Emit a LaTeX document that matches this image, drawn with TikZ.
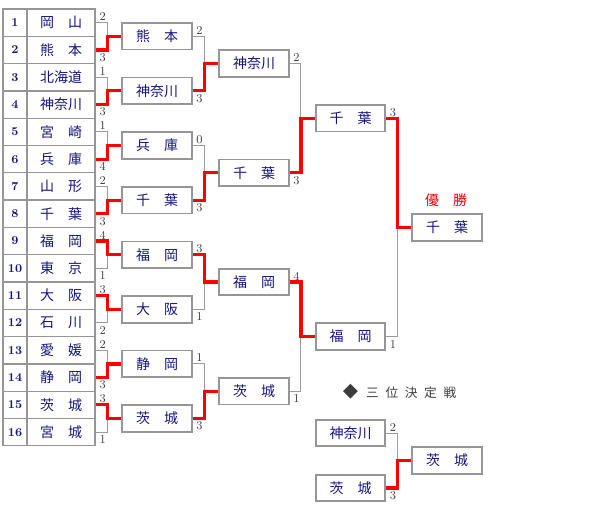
\documentclass[tikz,border=0pt]{standalone}
\usepackage{fontspec}
\newfontfamily\jp{Noto Sans CJK JP}
\usetikzlibrary{calc}
\definecolor{navy}{RGB}{20,20,130}
\definecolor{boxgray}{RGB}{150,150,150}
\definecolor{linegray}{RGB}{155,155,155}
\definecolor{scoregray}{RGB}{60,60,60}
\tikzset{
  team/.style={draw=boxgray, line width=1.3pt, minimum width=52pt, minimum height=20pt,
    inner sep=0pt, font=\jp\fontsize{10.5}{10.5}\selectfont, text=navy},
  cell/.style={team, line width=1pt, minimum width=51pt, minimum height=20.5pt},
  numcell/.style={draw=boxgray, line width=1pt, minimum width=18pt, minimum height=20.5pt,
    inner sep=0pt, font=\bfseries\fontsize{9}{9}\selectfont, text=navy},
  lose/.style={draw=linegray, line width=0.75pt},
  win/.style={draw=red, line width=2.4pt},
  score/.style={inner sep=0.5pt, font=\fontsize{9}{9}\selectfont, text=scoregray},
}
\begin{document}
\begin{tikzpicture}[x=0.75pt, y=-0.75pt]
  \useasboundingbox (0,0) rectangle (600,510);
  % first round table
  \foreach \name [count=\i] in {岡　山, 熊　本, 北海道, 神奈川, 宮　崎, 兵　庫, 山　形, 千　葉,
      福　岡, 東　京, 大　阪, 石　川, 愛　媛, 静　岡, 茨　城, 宮　城} {
    \node[numcell] (n\i) at (15, {9+(\i-0.5)*27.3}) {\i};
    \node[cell] (p\i) at (61, {9+(\i-0.5)*27.3}) {\name};
  }
  % second round
  \foreach \name [count=\k] in {熊　本, 神奈川, 兵　庫, 千　葉, 福　岡, 大　阪, 静　岡, 茨　城}
    \node[team] (q\k) at (157, {9+(2*\k-1)*27.3}) {\name};
  % quarter finals
  \foreach \name [count=\k] in {神奈川, 千　葉, 福　岡, 茨　城}
    \node[team] (r\k) at (254, {9+(4*\k-2)*27.3}) {\name};
  % semi finals
  \foreach \name [count=\k] in {千　葉, 福　岡}
    \node[team] (s\k) at (350.5, {9+(8*\k-4)*27.3}) {\name};
  % winner
  \node[team] (champ) at (447, 227.4) {千　葉};
  \node[font=\jp\fontsize{10.5}{10.5}\selectfont, text=red] (yusho) at (446, 200) {優　勝};
  % third place
  \node[font=\jp\fontsize{9.5}{9.5}\selectfont, text=scoregray] (bronze) at (399.5, 392)
    {{\fontsize{11.5}{11.5}\selectfont ◆}\hspace{6pt}三\hspace{5pt}位\hspace{5pt}決\hspace{5pt}定\hspace{5pt}戦};
  \node[team] (th1) at (350.5, 433) {神奈川};
  \node[team] (th2) at (350.5, 488) {茨　城};
  \node[team] (thw) at (447, 460.5) {茨　城};
  % junctions
  \foreach \w in {q1,q2,q3,q4,q5,q6,q7,q8,r1,r2,r3,r4,s1,s2,champ,thw}
    \coordinate (j\w) at ($(\w.west)+(-14,0)$);
  % all lines
  \foreach \a/\b/\w in {p1/p2/q1, p3/p4/q2, p5/p6/q3, p7/p8/q4, p9/p10/q5, p11/p12/q6,
      p13/p14/q7, p15/p16/q8, q1/q2/r1, q3/q4/r2, q5/q6/r3, q7/q8/r4,
      r1/r2/s1, r3/r4/s2, s1/s2/champ, th1/th2/thw} {
    \draw[lose] (\a.east) -| (j\w);
    \draw[lose] (\b.east) -| (j\w);
  }
  % winners
  \foreach \v/\w in {p2/q1, p4/q2, p6/q3, p8/q4, p9/q5, p11/q6, p14/q7, p15/q8,
      q2/r1, q4/r2, q5/r3, q8/r4, r2/s1, r3/s2, s1/champ, th2/thw}
    \draw[win] (\v.east) -| (j\w) -- (\w.west);
  % scores
  \foreach \a/\b/\sa/\sb in {p1/p2/2/3, p3/p4/1/3, p5/p6/1/4, p7/p8/2/3, p9/p10/4/1,
      p11/p12/3/2, p13/p14/2/3, p15/p16/3/1, q1/q2/2/3, q3/q4/0/3, q5/q6/3/1, q7/q8/1/3,
      r1/r2/2/3, r3/r4/4/1, s1/s2/3/1, th1/th2/2/3} {
    \node[score, anchor=south west] (sc\a) at ($(\a.east)+(3,-1)$) {\sa};
    \node[score, anchor=north west] (sc\b) at ($(\b.east)+(3,2.5)$) {\sb};
  }
\end{tikzpicture}
\end{document}
